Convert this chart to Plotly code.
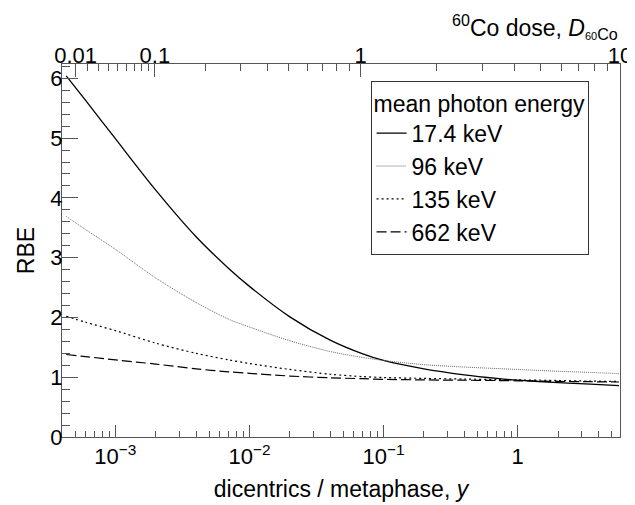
import plotly.graph_objects as go

# dicentrics per metaphase (x) and RBE values
y_dic = [4.3e-4, 6e-4, 1e-3, 2e-3, 4e-3, 7e-3, 0.01, 0.02, 0.04, 0.07,
         0.1, 0.2, 0.4, 0.7, 1.0, 2.0, 3.5, 5.7]
rbe_174 = [6.04, 5.63, 4.99, 4.13, 3.35, 2.82, 2.52, 2.01, 1.62, 1.39,
           1.28, 1.14, 1.04, 0.98, 0.95, 0.91, 0.885, 0.86]
rbe_96 = [3.69, 3.47, 3.14, 2.66, 2.25, 1.97, 1.84, 1.61, 1.43, 1.33,
          1.28, 1.21, 1.17, 1.145, 1.13, 1.10, 1.08, 1.06]
rbe_135 = [2.02, 1.92, 1.78, 1.57, 1.40, 1.29, 1.23, 1.13, 1.05, 1.01,
           0.995, 0.98, 0.97, 0.96, 0.955, 0.945, 0.935, 0.93]
rbe_662 = [1.38, 1.345, 1.29, 1.22, 1.14, 1.09, 1.065, 1.02, 0.99, 0.975,
           0.965, 0.955, 0.95, 0.945, 0.94, 0.93, 0.925, 0.92]

energies = ["17.4 keV", "96 keV", "135 keV", "662 keV"]

# 60Co calibration curve y = c + a*D + b*D^2 (for the top axis)
cal_c, cal_a, cal_b = 0.0004, 0.010, 0.057
dose_major = [0.01, 0.1, 1, 10]
dose_major_text = ["0.01", "0.1", "1", "10"]
dose_minor = [m * d for d in [0.01, 0.1, 1] for m in range(2, 10)]

x_range = [-3.398, 0.7634]  # log10 of 4e-4 .. 5.8

FONT = "Liberation Sans, Arial, sans-serif"
AXC = "#555"


def dose_to_y(d):
    return cal_c + cal_a * d + cal_b * d * d


styles = [
    dict(color="black", width=1.3),
    dict(color="#666", width=1, dash="1px,1px"),
    dict(color="black", width=1.2, dash="2px,3px"),
    dict(color="black", width=1.2, dash="10px,4px"),
]

fig = go.Figure()
for name, vals, st in zip(energies, [rbe_174, rbe_96, rbe_135, rbe_662], styles):
    fig.add_trace(go.Scatter(x=y_dic, y=vals, mode="lines", name=name,
                             line=dict(shape="spline", smoothing=0.8, **st)))

# dummy trace to carry the top axis
fig.add_trace(go.Scatter(x=[y_dic[0]], y=[0], xaxis="x2", mode="markers",
                         marker=dict(opacity=0), showlegend=False, hoverinfo="skip"))

bottom_major = [1e-3, 1e-2, 1e-1, 1]
bottom_text = ["10<sup>−3</sup>", "10<sup>−2</sup>", "10<sup>−1</sup>", "1"]
bottom_minor = [m * 10.0 ** e for e in range(-4, 1) for m in range(2, 10)]

# the page body adds an 8px offset, margins are set with that in mind
fig.update_layout(
    width=635, height=505,
    margin=dict(l=54, r=23, t=56, b=76, autoexpand=False),
    paper_bgcolor="white", plot_bgcolor="white",
    font=dict(family=FONT, size=22, color="black"),
    showlegend=True,
    legend=dict(
        x=0.553, y=0.955, xanchor="left", yanchor="top",
        bgcolor="white", bordercolor="#333", borderwidth=1,
        title=dict(text="mean photon energy", font=dict(size=23)),
        font=dict(size=23),
    ),
    xaxis=dict(
        type="log", range=x_range, automargin=False,
        tickmode="array", tickvals=bottom_major, ticktext=bottom_text,
        ticks="inside", ticklen=12, tickcolor=AXC,
        minor=dict(tickmode="array", tickvals=bottom_minor, ticks="inside",
                   ticklen=6, tickcolor=AXC),
        showline=True, linecolor=AXC, linewidth=1, mirror=True,
        showgrid=False, zeroline=False,
        title=dict(text="dicentrics / metaphase, <i>y</i>", font=dict(size=23), standoff=12),
    ),
    xaxis2=dict(
        type="log", range=x_range, overlaying="x", side="top", anchor="y",
        automargin=False, ticklabelstandoff=-4,
        tickmode="array", tickvals=[dose_to_y(d) for d in dose_major],
        ticktext=dose_major_text,
        ticks="inside", ticklen=13, tickcolor=AXC,
        minor=dict(tickmode="array", tickvals=[dose_to_y(d) for d in dose_minor],
                   ticks="inside", ticklen=7, tickcolor=AXC),
        showline=False, showgrid=False, zeroline=False,
    ),
    yaxis=dict(
        range=[0, 6.24], tickmode="array", tickvals=[0, 1, 2, 3, 4, 5, 6],
        automargin=False, ticklabelstandoff=-6,
        ticks="inside", ticklen=16, tickcolor=AXC,
        minor=dict(dtick=0.2, ticks="inside", ticklen=8, tickcolor=AXC),
        showline=True, linecolor=AXC, linewidth=1, mirror=True,
        showgrid=False, zeroline=False,
        title=dict(text="RBE", font=dict(size=23), standoff=9),
    ),
)

fig.add_annotation(
    xref="paper", yref="paper", x=1.0, y=1.0, yshift=19,
    xanchor="right", yanchor="bottom", showarrow=False,
    text="<sup>60</sup>Co dose, <i>D</i><sub><span style='font-size:11px'>60</span>Co</sub>",
    font=dict(size=23),
)

fig.write_html("out.html")
